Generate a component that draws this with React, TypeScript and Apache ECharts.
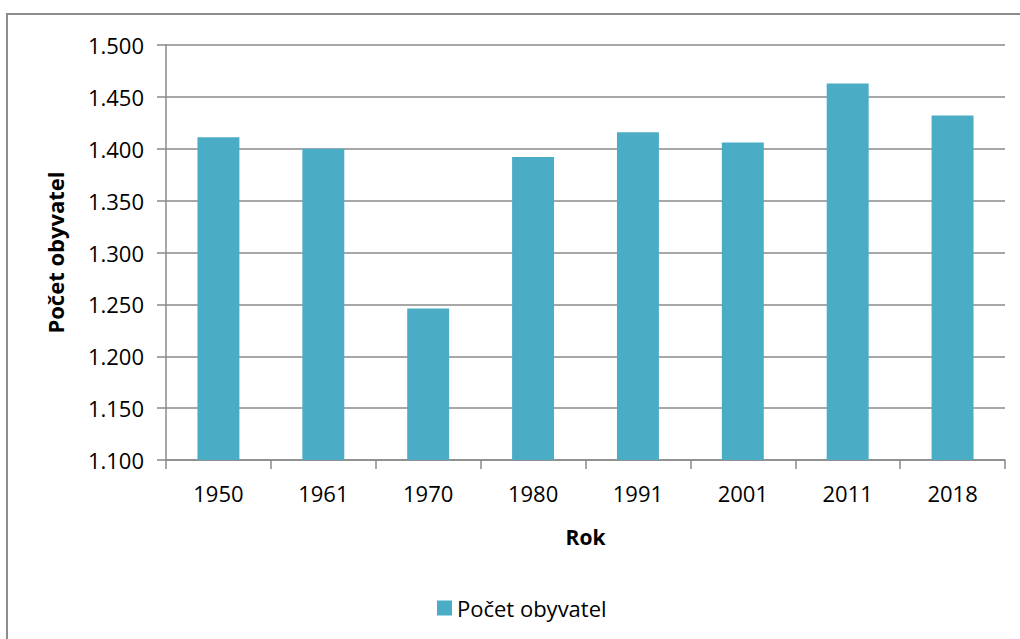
import React, { useEffect, useRef } from "react";
import * as echarts from "echarts";

const years = ["1950", "1961", "1970", "1980", "1991", "2001", "2011", "2018"];
const population = [1411, 1400, 1246, 1392, 1416, 1406, 1463, 1432];
const yMin = 1100;
const yMax = 1500;
const yStep = 50;
const seriesName = "Počet obyvatel";
const xAxisTitle = "Rok";
const yAxisTitle = "Počet obyvatel";

const FONT = "'Open Sans', 'Noto Sans', sans-serif";
const GRAY = "#8a8a8a";

function fmt(v: number): string {
  const th = Math.floor(v / 1000);
  const rest = String(Math.round(v % 1000)).padStart(3, "0");
  return th > 0 ? th + "." + rest : String(v);
}

export default function App() {
  const ref = useRef<HTMLDivElement>(null);
  useEffect(() => {
    if (!ref.current) return;
    const chart = echarts.init(ref.current, undefined, { renderer: "svg" });
    chart.setOption({
      animation: false,
      backgroundColor: "#ffffff",
      graphic: [
        {
          type: "rect",
          shape: { x: 7, y: 14, width: 1100, height: 700 },
          style: { fill: "none", stroke: "#8c8c8c", lineWidth: 2 },
          silent: true,
          z: 0,
        },
      ],
      grid: { left: 166, right: 15, top: 45, bottom: 179, containLabel: false },
      legend: {
        data: [seriesName],
        left: 432,
        top: 592,
        icon: "rect",
        itemWidth: 15,
        itemHeight: 15,
        itemGap: 5,
        textStyle: { fontFamily: FONT, fontSize: 22, color: "#000" },
      },
      xAxis: {
        type: "category",
        data: years,
        name: xAxisTitle,
        nameLocation: "middle",
        nameGap: 66,
        nameTextStyle: { fontFamily: FONT, fontSize: 21, fontWeight: "bold", color: "#000" },
        axisLine: { show: true, lineStyle: { color: GRAY, width: 1.5 } },
        axisTick: { show: true, length: 9, alignWithLabel: false, lineStyle: { color: GRAY, width: 1.5 } },
        axisLabel: { fontFamily: FONT, fontSize: 22, color: "#000", margin: 22 },
        splitLine: { show: false },
      },
      yAxis: {
        type: "value",
        min: yMin,
        max: yMax,
        interval: yStep,
        name: yAxisTitle,
        nameLocation: "middle",
        nameGap: 100,
        nameRotate: 90,
        nameTextStyle: { fontFamily: FONT, fontSize: 22, fontWeight: "bold", color: "#000" },
        axisLine: { show: true, lineStyle: { color: GRAY, width: 1.5 } },
        axisTick: { show: true, length: 9, inside: false, lineStyle: { color: GRAY, width: 1.5 } },
        axisLabel: { fontFamily: FONT, fontSize: 22, color: "#000", margin: 22, formatter: (v: number) => fmt(v) },
        splitLine: { show: true, lineStyle: { color: GRAY, width: 1.5 } },
      },
      series: [
        {
          name: seriesName,
          type: "bar",
          data: population,
          barWidth: "40%",
          itemStyle: { color: "#4BACC6" },
        },
      ],
    });
    return () => chart.dispose();
  }, []);
  return (
    <div
      ref={ref}
      style={{ position: "absolute", left: 0, top: 0, width: 1020, height: 639 }}
    />
  );
}
